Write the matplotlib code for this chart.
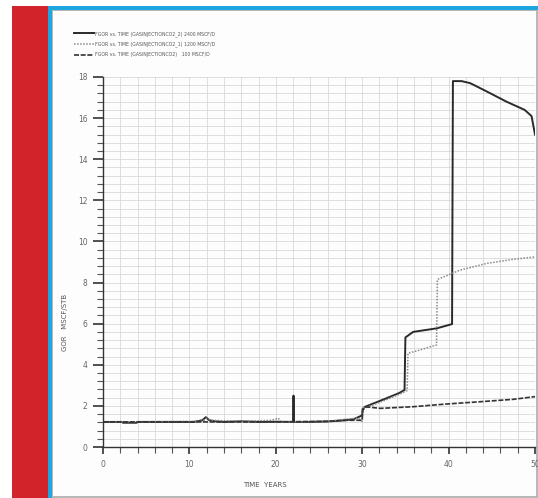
import matplotlib
matplotlib.use("Agg")
import matplotlib.pyplot as plt
from matplotlib.patches import Rectangle
from matplotlib.ticker import MultipleLocator

# ── data ──────────────────────────────────────────────────────────────────
years_2400 = [0, 2.2, 2.3, 3.9, 4.0, 10.5, 11.5, 11.9, 12.3, 13, 14, 16, 18, 20,
              22.0, 22.05, 22.1, 24, 26, 27, 28, 29, 29.8, 30.0, 30.05, 30.3,
              30.9, 32.8, 34.2, 34.9, 35.0, 35.9, 38.6, 40.4, 40.5, 41.5, 42.5,
              44.4, 46.7, 48.8, 49.6, 50.0]
gor_2400 = [1.22, 1.22, 1.18, 1.18, 1.22, 1.22, 1.3, 1.45, 1.3, 1.25, 1.22, 1.25,
            1.22, 1.23, 1.22, 2.5, 1.22, 1.22, 1.24, 1.27, 1.3, 1.35, 1.5, 1.55,
            1.85, 1.95, 2.05, 2.37, 2.61, 2.77, 5.33, 5.6, 5.77, 5.98, 17.8, 17.8,
            17.7, 17.3, 16.8, 16.4, 16.1, 15.2]

years_1200 = [0, 11.5, 12.0, 12.5, 16, 19.5, 20.3, 20.6, 24, 26, 28, 29.5, 30.0,
              30.05, 31, 32.8, 34.5, 35.2, 35.3, 36.5, 38.6, 38.7, 41.3, 44.4,
              47.5, 50.0]
gor_1200 = [1.22, 1.25, 1.4, 1.3, 1.25, 1.3, 1.4, 1.22, 1.23, 1.25, 1.35, 1.4,
            1.25, 1.9, 2.0, 2.3, 2.6, 2.75, 4.56, 4.7, 4.96, 8.15, 8.6, 8.93,
            9.13, 9.25]

years_100 = [0, 10, 20, 26, 28, 29.5, 30.0, 30.05, 30.5, 32.1, 35.9, 39.7, 43.6,
             47.5, 50.0]
gor_100 = [1.22, 1.22, 1.22, 1.25, 1.3, 1.3, 1.3, 1.8, 1.95, 1.88, 1.96, 2.09,
           2.2, 2.32, 2.45]

legend_labels = [
    "FGOR vs. TIME (GASINJECTIONCO2_2) 2400 MSCF/D",
    "FGOR vs. TIME (GASINJECTIONCO2_1) 1200 MSCF/D",
    "FGOR vs. TIME (GASINJECTIONCO2)   100 MSCF/D",
]

W, H = 538, 498
fig = plt.figure(figsize=(W / 100, H / 100), dpi=100)
fig.patch.set_facecolor("white")


def px_rect(x0, y0, x1, y1, **kw):
    """Rectangle in pixel coords (origin top-left), drawn behind the axes."""
    fig.patches.append(Rectangle((x0 / W, 1 - y1 / H), (x1 - x0) / W, (y1 - y0) / H,
                                 transform=fig.transFigure, figure=fig,
                                 zorder=-10, **kw))


# ── page frame: red strip, cyan border, panel ────────────────────────────
px_rect(12, 6, 48, 498, color="#d2222a", lw=0)
px_rect(48, 6, 538, 498, color="#1ea6de", lw=0)
px_rect(52, 10, 538, 498, color="#b8b8b8", lw=0)
px_rect(53, 11, 536, 496, color="#fdfdfd", lw=0)

ax = fig.add_axes([103 / W, 51 / H, 432 / W, 370 / H])
ax.set_facecolor("none")

ax.plot(years_2400, gor_2400, color="#2a2a2a", lw=1.4, label=legend_labels[0])
ax.plot(years_1200, gor_1200, color="#8a8a8a", lw=1.1, ls=(0, (1, 1)),
        label=legend_labels[1])
ax.plot(years_100, gor_100, color="#333333", lw=1.2, ls=(0, (3, 1)),
        label=legend_labels[2])

ax.set_xlim(0, 50)
ax.set_ylim(0, 18)
ax.xaxis.set_major_locator(MultipleLocator(10))
ax.xaxis.set_minor_locator(MultipleLocator(2))
ax.yaxis.set_major_locator(MultipleLocator(2))
ax.yaxis.set_minor_locator(MultipleLocator(0.4))
ax.grid(which="both", color="#d8d8d8", lw=0.6)
ax.set_axisbelow(True)

for side in ("top", "right"):
    ax.spines[side].set_visible(False)
for side in ("left", "bottom"):
    ax.spines[side].set_color("#333333")
    ax.spines[side].set_linewidth(1.0)

ax.tick_params(which="major", length=7, width=1.2, color="#333333",
               labelsize=5.5, labelcolor="#666666", pad=4)
ax.tick_params(which="minor", length=4, width=0.8, color="#555555")
ax.tick_params(axis="x", which="major", length=5)
ax.tick_params(axis="x", which="minor", length=4)

fig.text(65 / W, 1 - 322 / H, "GOR   MSCF/STB", rotation=90, fontsize=5,
         color="#555555", ha="center", va="center")
fig.text(265 / W, 1 - 485 / H, "TIME  YEARS", fontsize=5, color="#555555",
         ha="center", va="center")

leg = fig.legend(loc="upper left", bbox_to_anchor=(72 / W, 1 - 29 / H),
                 fontsize=3.3, frameon=False, handlelength=4.5, handletextpad=0.2,
                 labelspacing=1.1, borderaxespad=0)
for t in leg.get_texts():
    t.set_color("#555555")

fig.savefig("out.png", dpi=100)
